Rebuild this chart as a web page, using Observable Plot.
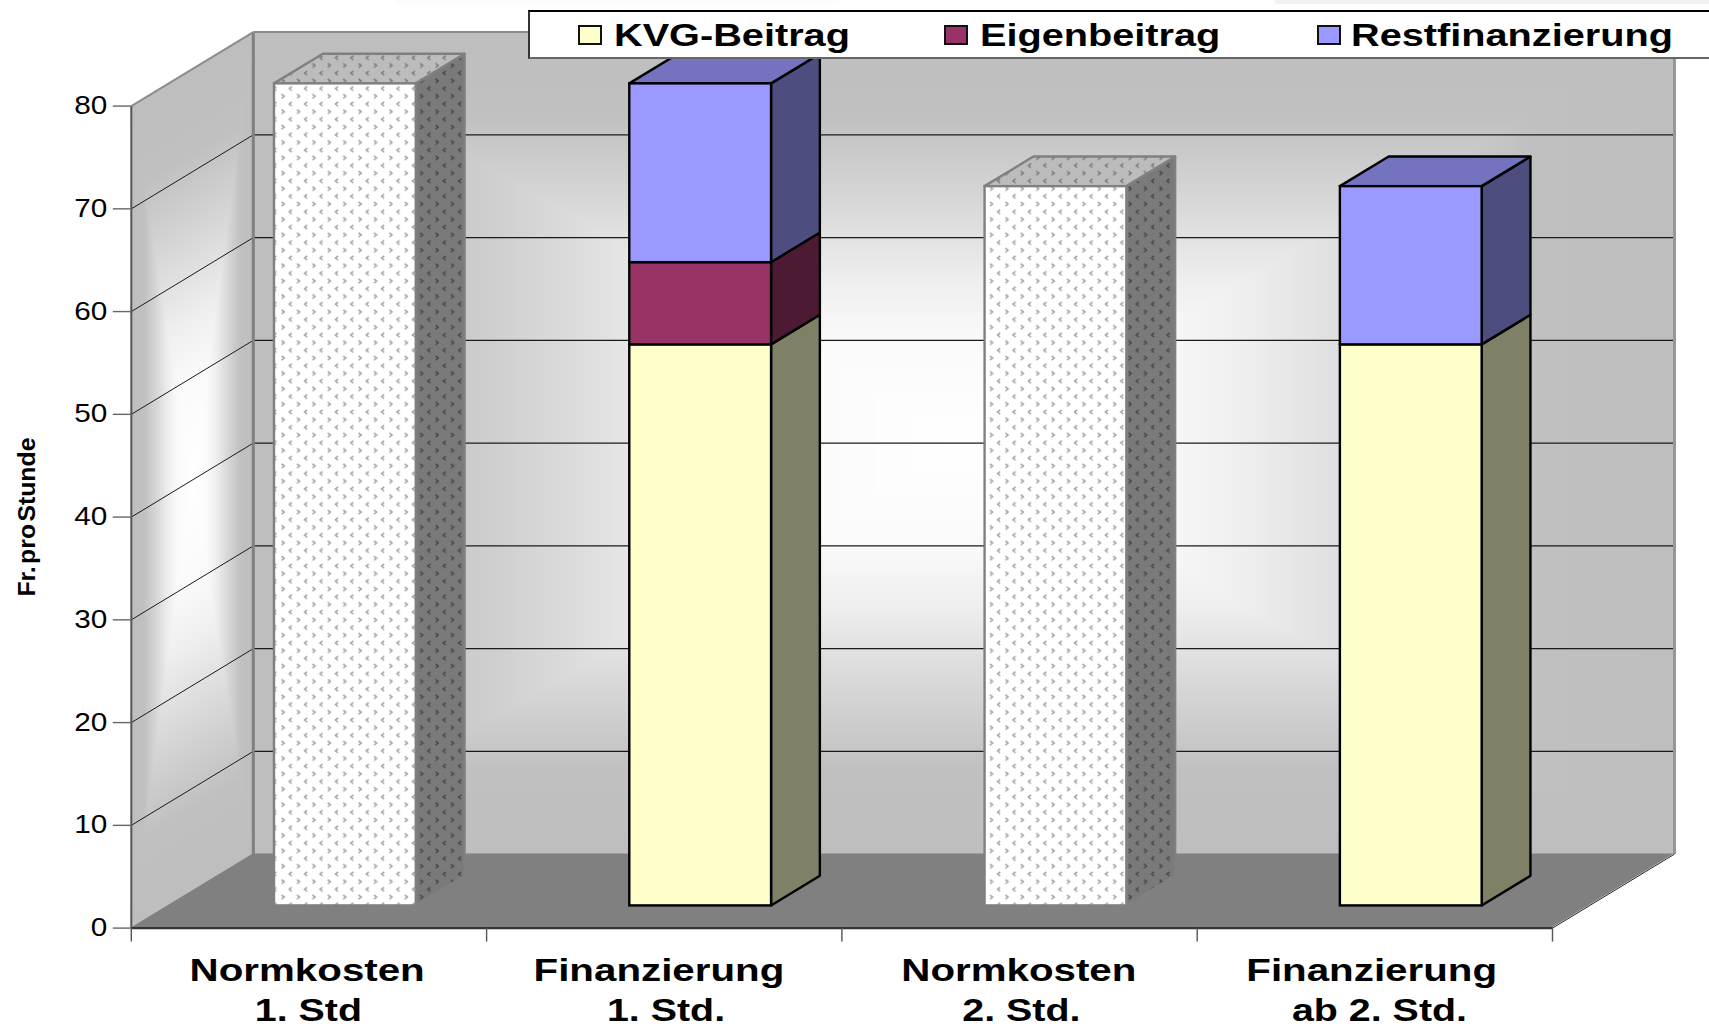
<!DOCTYPE html>
<html lang="de">
<head>
<meta charset="utf-8">
<title>Normkosten und Finanzierung</title>
<script src="https://cdn.jsdelivr.net/npm/d3@7"></script>
<script src="https://cdn.jsdelivr.net/npm/@observablehq/plot@0.6"></script>
<style>
  html, body { margin: 0; padding: 0; background: #fff; overflow: hidden; width: 1709px; height: 1028px; }
  #wrap { position: relative; width: 1709px; height: 1028px; overflow: hidden; font-family: "Liberation Sans", Arial, sans-serif; }
  #wrap svg { display: block; }
  .strip { position: absolute; top: 0; height: 4px; }
  #legend { position: absolute; left: 528px; top: 10px; width: 1200px; height: 49px; box-sizing: border-box; background: #fff;
            border-top: 2px solid #000; border-left: 2px solid #333; border-bottom: 2px solid #666; }
  .sw { position: absolute; top: 13px; width: 24px; height: 20px; box-sizing: border-box; border: 2px solid #111; }
  .lab { position: absolute; top: 3px; font-size: 32px; line-height: 40px; font-weight: bold; color: #000; white-space: nowrap;
         transform: scaleX(1.24); transform-origin: left center; }
</style>
</head>
<body>
<div id="wrap"></div>
<script>
// ---- Data ----
const categoryLine1 = ["Normkosten", "Finanzierung", "Normkosten", "Finanzierung"];
const categoryLine2 = ["1. Std", "1. Std.", "2. Std.", "ab 2. Std."];
const line1At = [0.495, 1.485, 2.498, 3.491];
const line2At = [0.4985, 1.505, 2.505, 3.513];
const normkosten      = [80, 0, 70, 0];
const kvgBeitrag      = [0, 54.6, 0, 54.6];
const eigenbeitrag    = [0, 8, 0, 0];
const restfinanzierung = [0, 17.4, 0, 15.4];
const yTicks = [0, 10, 20, 30, 40, 50, 60, 70, 80];
const yTitle = "Fr. pro Stunde";
const seriesNames = ["KVG-Beitrag", "Eigenbeitrag", "Restfinanzierung"];

// ---- Oblique-projection geometry, in scale units ----
const WALL_DX = 0.3434, WALL_DY = 7.2, Y_MAX = 80;
const NEAR = 0.30, FAR = 0.70;            // bar front/back planes, as fraction of floor depth
const BAR_FROM = 0.3, BAR_W = 0.399;      // bar position inside a category
const px = (i, d) => i + BAR_FROM + d * WALL_DX;
const py = (v, d) => v + d * WALL_DY;

// Segments per bar
const palette = {
  norm: {front: "url(#pFront)", side: "url(#pSide)", top: "url(#pTop)", stroke: "#808080"},
  kvg:  {front: "#FFFFCC", side: "#808066", top: "#BFBF99", stroke: "#000"},
  eig:  {front: "#993366", side: "#4D1A33", top: "#732650", stroke: "#000"},
  rest: {front: "#9999FF", side: "#4D4D80", top: "#7373BF", stroke: "#000"}
};
const segments = [];
categoryLine1.forEach((c, i) => {
  let base = 0;
  [["norm", normkosten[i]], ["kvg", kvgBeitrag[i]], ["eig", eigenbeitrag[i]], ["rest", restfinanzierung[i]]].forEach(([key, v]) => {
    if (v > 0) { segments.push({i, key, v1: base, v2: base + v}); base += v; }
  });
  segments.filter(s => s.i === i).forEach((s, _, a) => s.isTop = s === a[a.length - 1]);
});
const frontRows = segments.map(s => ({...s, x1: px(s.i, NEAR), x2: px(s.i, NEAR) + BAR_W, y1: py(s.v1, NEAR), y2: py(s.v2, NEAR)}));
const sideRows = segments.flatMap((s, k) => [NEAR, FAR].map(d => ({...s, k, x: px(s.i, d) + BAR_W, y1: py(s.v1, d), y2: py(s.v2, d)})));
const topRows = segments.filter(s => s.isTop).flatMap((s, k) => [NEAR, FAR].map(d => ({...s, k, x1: px(s.i, d), x2: px(s.i, d) + BAR_W, y: py(s.v2, d)})));

const faces = [];
for (const key of Object.keys(palette)) {
  const st = palette[key], on = r => r.key === key;
  faces.push(
    Plot.area(sideRows.filter(on), {x1: "x", x2: "x", y1: "y1", y2: "y2", z: "k", fill: st.side, stroke: st.stroke, strokeWidth: 2.4, strokeLinejoin: "round"}),
    Plot.area(topRows.filter(on), {x1: "x1", x2: "x2", y1: "y", y2: "y", z: "k", fill: st.top, stroke: st.stroke, strokeWidth: 2.4, strokeLinejoin: "round"}),
    Plot.rect(frontRows.filter(on), {x1: "x1", x2: "x2", y1: "y1", y2: "y2", fill: st.front, stroke: st.stroke, strokeWidth: 2.4})
  );
}

// Rectangular "from the centre" wall gradient
const shade = d3.scaleLinear([0, 0.25, 0.4, 0.6, 0.8, 1], [255, 250, 238, 214, 192, 190]);
const wallFill = (x, y) => {
  const d = x / WALL_DX;
  if (d < 1) {                                   // left wall
    const v = y - d * WALL_DY;
    if (d < 0 || v < 0 || v > Y_MAX) return NaN;
    return shade(Math.max(Math.abs(d - 0.5) / 0.5, Math.abs(v - 40) / 40));
  }
  const v = y - WALL_DY;                         // back wall
  if (v < 0 || v > Y_MAX) return NaN;
  return shade(Math.max(Math.abs(x - WALL_DX - 2) / 2, Math.abs(v - 40) / 40));
};

// Hatch patterns for the Normkosten bars
const patterns = () => {
  const defs = d3.create("svg:defs");
  const make = (id, bg, chev) => {
    const p = defs.append("pattern").attr("id", id).attr("patternUnits", "userSpaceOnUse")
      .attr("width", 15.4).attr("height", 15.4);
    p.append("rect").attr("width", 15.4).attr("height", 15.4).attr("fill", bg);
    p.append("path").attr("d", "M4.4 1.8 L7 3.9 L4.4 6 M14.6 9.5 L12 11.6 L14.6 13.7")
      .attr("fill", "none").attr("stroke", chev).attr("stroke-width", 1.5);
  };
  make("pFront", "#ffffff", "#a2a2a2");
  make("pSide", "#7a7a7a", "#484848");
  make("pTop", "#bcbcbc", "#7c7c7c");
  return defs.node();
};

const gridRows = yTicks.filter(v => v > 0 && v < Y_MAX);
const seg = (x1, y1, x2, y2) => [{x1, y1, x2, y2}];
const edge = (rows, stroke, strokeWidth) => Plot.link(rows, {x1: "x1", y1: "y1", x2: "x2", y2: "y2", stroke, strokeWidth});
const labelAxis = (at, names, tickPadding) => Plot.axisX({anchor: "bottom", ticks: at, tickSize: 0, tickPadding, fontSize: 31, fontWeight: "bold", label: null,
  tickFormat: d => names[at.indexOf(d)]});

const plot = Plot.plot({
  width: 1709, height: 1028,
  marginLeft: 130.8, marginRight: 35, marginTop: 31.6, marginBottom: 100.4,
  x: {type: "linear", domain: [0, 4 + WALL_DX]},
  y: {type: "linear", domain: [0, Y_MAX + WALL_DY]},
  color: {type: "linear", domain: [0, 255], range: ["#000000", "#ffffff"]},
  style: {fontFamily: "'Liberation Sans', Arial, sans-serif", background: "#fff", color: "#000", overflow: "visible"},
  marks: [
    patterns,
    Plot.raster({x1: 0, x2: 4 + WALL_DX, y1: 0, y2: Y_MAX + WALL_DY, fill: wallFill, pixelSize: 1, interpolate: "none"}),
    // floor
    Plot.area([{x1: 0, x2: 4, y: 0}, {x1: WALL_DX, x2: 4 + WALL_DX, y: WALL_DY}], {x1: "x1", x2: "x2", y1: "y", y2: "y", fill: "#808080"}),
    // grid on the left and back walls
    Plot.link(gridRows, {x1: 0, y1: d => d, x2: WALL_DX, y2: d => d + WALL_DY, stroke: "#1a1a1a", strokeWidth: 1}),
    Plot.link(gridRows, {x1: WALL_DX, y1: d => d + WALL_DY, x2: 4 + WALL_DX, y2: d => d + WALL_DY, stroke: "#1a1a1a", strokeWidth: 1.2}),
    // wall edges
    edge(seg(WALL_DX, WALL_DY, WALL_DX, Y_MAX + WALL_DY), "#808080", 3),
    edge(seg(WALL_DX, Y_MAX + WALL_DY, 4 + WALL_DX, Y_MAX + WALL_DY), "#8c8c8c", 2),
    edge(seg(0, Y_MAX, WALL_DX, Y_MAX + WALL_DY), "#8c8c8c", 2),
    edge(seg(4 + WALL_DX, WALL_DY, 4 + WALL_DX, Y_MAX + WALL_DY), "#969696", 3),
    edge(seg(0, 0, 0, Y_MAX), "#555", 2),
    edge(seg(0, 0, 4, 0), "#333", 2.4),
    edge(seg(4, 0, 4 + WALL_DX, WALL_DY), "#222", 1),
    // bars
    ...faces,
    // axes
    Plot.axisY({anchor: "left", ticks: yTicks, tickSize: 18, tickPadding: 6, stroke: "#666", strokeWidth: 1.4, fontSize: 25, label: null, tickFormat: d => d}),
    Plot.axisX({anchor: "bottom", ticks: [0, 1, 2, 3, 4], tickSize: 14, stroke: "#555", strokeWidth: 1.4, tickFormat: () => "", label: null}),
    labelAxis(line1At, categoryLine1, 31),
    labelAxis(line2At, categoryLine2, 70.5),
    Plot.text([yTitle], {frameAnchor: "left", textAnchor: "middle", y: () => 40, dx: -104, rotate: -90, fontSize: 24.8, fontWeight: "bold"})
  ]
});

const wrap = document.getElementById("wrap");
wrap.append(plot);

// faint strips along the top edge
for (const [l, w, c] of [[397, 442, "#fcfcfc"], [1275, 434, "#f2f2f2"]]) {
  const s = document.createElement("div");
  s.className = "strip";
  s.style.cssText = `left:${l}px;width:${w}px;background:${c}`;
  wrap.append(s);
}

// Legend
const legend = document.createElement("div");
legend.id = "legend";
const items = [[seriesNames[0], "#FFFFCC", 48, 84], [seriesNames[1], "#993366", 414, 450], [seriesNames[2], "#9999FF", 787, 821]];
for (const [name, col, sx, tx] of items) {
  const sw = document.createElement("span"); sw.className = "sw"; sw.style.left = sx + "px"; sw.style.background = col;
  const tl = document.createElement("span"); tl.className = "lab"; tl.style.left = tx + "px"; tl.textContent = name;
  legend.append(sw, tl);
}
wrap.append(legend);

// The source chart draws its type stretched sideways
const stretch = (el, f) => { el.setAttribute("textLength", el.getComputedTextLength() * f); el.setAttribute("lengthAdjust", "spacingAndGlyphs"); };
plot.querySelectorAll('g[aria-label="y-axis tick label"] text').forEach(t => stretch(t, 1.19));
plot.querySelectorAll('g[aria-label="x-axis tick label"] text').forEach(t => { if (t.textContent) stretch(t, t.textContent.length >= 10 && !t.textContent.includes(".") ? 1.3 : 1.27); });
plot.querySelectorAll('g[aria-label="text"] text').forEach(t => t.setAttribute("word-spacing", "-4.5"));
</script>
</body>
</html>
